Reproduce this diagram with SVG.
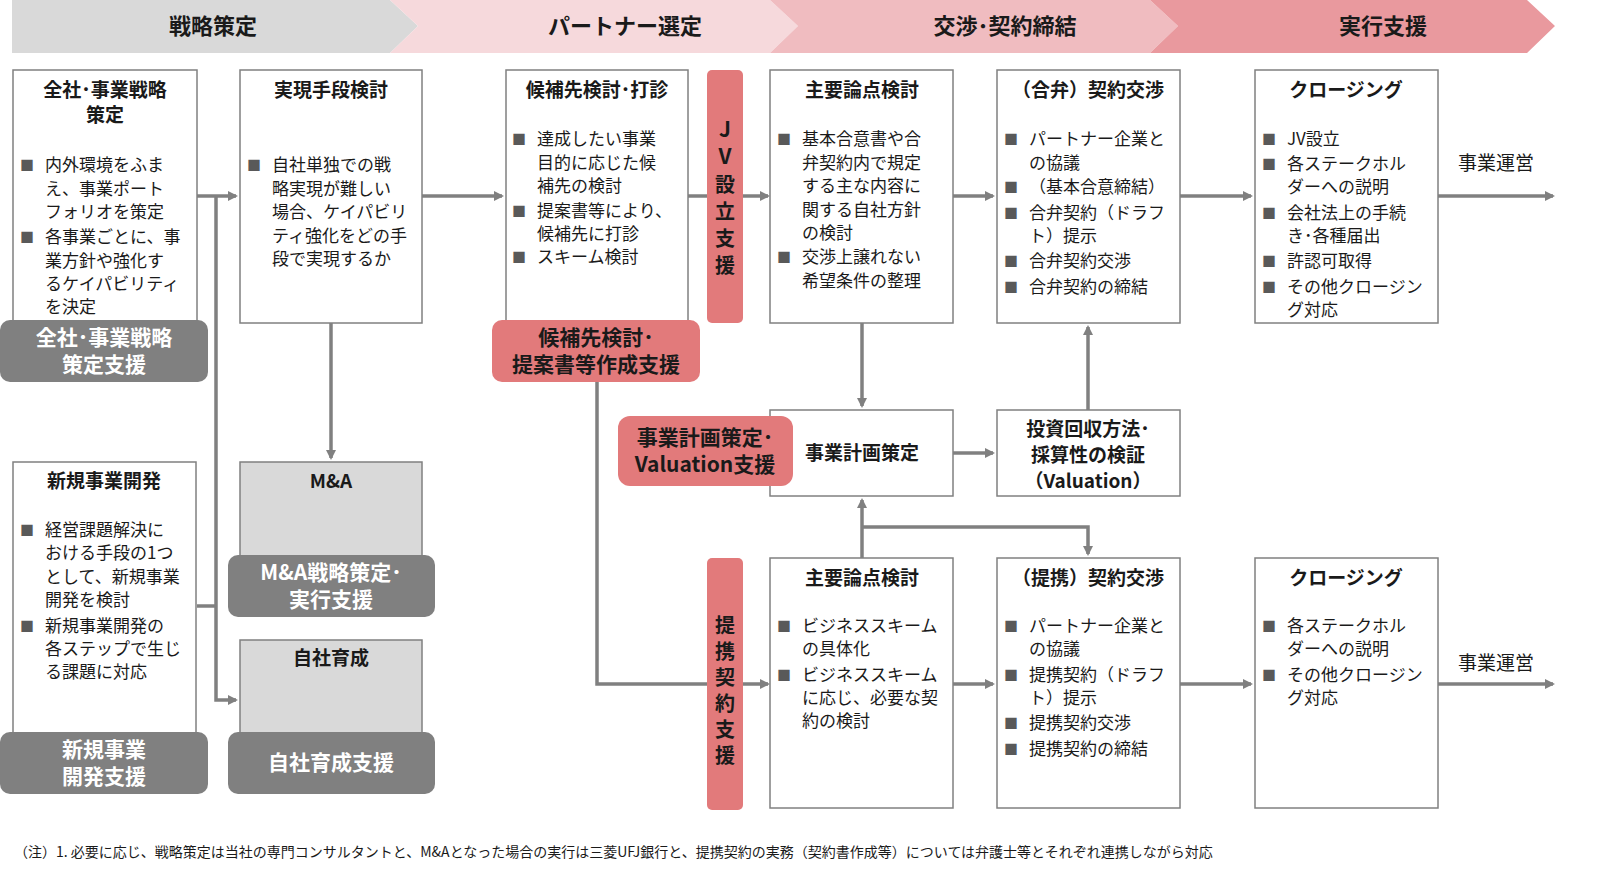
<svg xmlns="http://www.w3.org/2000/svg" width="1600" height="891" viewBox="0 0 1600 891">
<defs>
<marker id="ah" markerWidth="10" markerHeight="10" refX="8" refY="5" orient="auto" markerUnits="userSpaceOnUse"><path d="M0,0 L10,5 L0,10 Z" fill="#808080"/></marker>
<style>
text{font-family:"Noto Sans CJK JP","Liberation Sans",sans-serif;fill:#1a1a1a}
.box{fill:#fff;stroke:#808080;stroke-width:1.5}
.gbox{fill:#d9d9d9;stroke:#808080;stroke-width:1.5}
.t{font-size:19px;font-weight:bold;text-anchor:middle}
.b{font-size:17px}
.sq{fill:#595959;font-size:14px}
.gs{fill:#808080}
.ps{fill:#e27a7b}
.w{fill:#fff;font-size:21px;font-weight:bold;text-anchor:middle}
.p{font-size:21px;font-weight:bold;text-anchor:middle}
.v{font-size:20px;font-weight:bold;text-anchor:middle}
.h{font-size:22px;font-weight:bold;text-anchor:middle}
.c{fill:none;stroke:#808080;stroke-width:3.5}
</style>
</defs>
<rect width="1600" height="891" fill="#fff"/>
<g id="header">
<polygon points="12,0 390,0 418,26 390,53 12,53" fill="#d9d9d9"/>
<polygon points="390,0 770,0 798,26 770,53 390,53 418,26" fill="#f6d9dc"/>
<polygon points="770,0 1150,0 1178,26 1150,53 770,53 798,26" fill="#f0bcc0"/>
<polygon points="1150,0 1527,0 1555,26 1527,53 1150,53 1178,26" fill="#e9999e"/>
<text class="h" x="213" y="34">戦略策定</text>
<text class="h" x="625" y="34">パートナー選定</text>
<text class="h" x="1005" y="34">交渉･契約締結</text>
<text class="h" x="1383" y="34">実行支援</text>
</g>
<g id="connectors">
<line class="c" x1="197" y1="196" x2="236" y2="196" marker-end="url(#ah)"/>
<line class="c" x1="422" y1="196" x2="502" y2="196" marker-end="url(#ah)"/>
<line class="c" x1="688" y1="196" x2="768" y2="196" marker-end="url(#ah)"/>
<line class="c" x1="953" y1="196" x2="993" y2="196" marker-end="url(#ah)"/>
<line class="c" x1="1180" y1="196" x2="1251" y2="196" marker-end="url(#ah)"/>
<line class="c" x1="1438" y1="196" x2="1553" y2="196" marker-end="url(#ah)"/>
<polyline class="c" points="216,196 216,700 236,700" marker-end="url(#ah)"/>
<line class="c" x1="197" y1="606" x2="216" y2="606"/>
<line class="c" x1="331" y1="323" x2="331" y2="458" marker-end="url(#ah)"/>
<polyline class="c" points="597,382 597,684 768,684" marker-end="url(#ah)"/>
<line class="c" x1="862" y1="323" x2="862" y2="406" marker-end="url(#ah)"/>
<line class="c" x1="1088" y1="410" x2="1088" y2="327" marker-end="url(#ah)"/>
<line class="c" x1="953" y1="453" x2="993" y2="453" marker-end="url(#ah)"/>
<line class="c" x1="862" y1="558" x2="862" y2="500" marker-end="url(#ah)"/>
<polyline class="c" points="862,527 1088,527 1088,554" marker-end="url(#ah)"/>
<line class="c" x1="953" y1="684" x2="993" y2="684" marker-end="url(#ah)"/>
<line class="c" x1="1180" y1="684" x2="1251" y2="684" marker-end="url(#ah)"/>
<line class="c" x1="1438" y1="684" x2="1553" y2="684" marker-end="url(#ah)"/>
</g>
<g id="n1">
<rect class="box" x="13" y="70" width="184" height="252"/>
<text class="t" x="105" y="97">全社･事業戦略</text><text class="t" x="105" y="122">策定</text>
<text class="sq" x="20" y="170">■</text><text class="sq" x="20" y="242">■</text>
<text class="b" x="45" y="171">内外環境をふま</text><text class="b" x="45" y="195">え、事業ポート</text><text class="b" x="45" y="218">フォリオを策定</text>
<text class="b" x="45" y="243">各事業ごとに、事</text><text class="b" x="45" y="267">業方針や強化す</text><text class="b" x="45" y="290">るケイパビリティ</text><text class="b" x="45" y="313">を決定</text>
</g>
<g id="s1"><rect class="gs" x="0" y="320" width="208" height="62" rx="10"/><text class="w" x="104" y="345">全社･事業戦略</text><text class="w" x="104" y="372">策定支援</text></g>
<g id="n2">
<rect class="box" x="240" y="70" width="182" height="253"/>
<text class="t" x="331" y="97">実現手段検討</text>
<text class="sq" x="247" y="170">■</text>
<text class="b" x="272" y="171">自社単独での戦</text><text class="b" x="272" y="195">略実現が難しい</text><text class="b" x="272" y="218">場合、ケイパビリ</text><text class="b" x="272" y="242">ティ強化をどの手</text><text class="b" x="272" y="265">段で実現するか</text>
</g>
<g id="n3">
<rect class="box" x="506" y="70" width="182" height="253"/>
<text class="t" x="597" y="97">候補先検討･打診</text>
<text class="sq" x="512" y="144">■</text><text class="sq" x="512" y="216">■</text><text class="sq" x="512" y="262">■</text>
<text class="b" x="537" y="145">達成したい事業</text><text class="b" x="537" y="169">目的に応じた候</text><text class="b" x="537" y="192">補先の検討</text>
<text class="b" x="537" y="217">提案書等により、</text><text class="b" x="537" y="240">候補先に打診</text><text class="b" x="537" y="263">スキーム検討</text>
</g>
<g id="s3"><rect class="ps" x="492" y="320" width="208" height="62" rx="10"/><text class="p" x="596" y="345">候補先検討･</text><text class="p" x="596" y="372">提案書等作成支援</text></g>
<g id="jv"><rect class="ps" x="707" y="70" width="36" height="253" rx="5"/>
<text class="p" x="725" y="137">J</text><text class="p" x="725" y="164">V</text><text class="v" x="725" y="192">設</text><text class="v" x="725" y="219">立</text><text class="v" x="725" y="246">支</text><text class="v" x="725" y="273">援</text></g>
<g id="n4">
<rect class="box" x="770" y="70" width="183" height="253"/>
<text class="t" x="862" y="97">主要論点検討</text>
<text class="sq" x="777" y="144">■</text><text class="sq" x="777" y="262">■</text>
<text class="b" x="802" y="145">基本合意書や合</text><text class="b" x="802" y="169">弁契約内で規定</text><text class="b" x="802" y="192">する主な内容に</text><text class="b" x="802" y="216">関する自社方針</text><text class="b" x="802" y="239">の検討</text>
<text class="b" x="802" y="263">交渉上譲れない</text><text class="b" x="802" y="287">希望条件の整理</text>
</g>
<g id="n5">
<rect class="box" x="997" y="70" width="183" height="253"/>
<text class="t" x="1088" y="97">（合弁）契約交渉</text>
<text class="sq" x="1004" y="144">■</text><text class="sq" x="1004" y="192">■</text><text class="sq" x="1004" y="218">■</text><text class="sq" x="1004" y="266">■</text><text class="sq" x="1004" y="292">■</text>
<text class="b" x="1029" y="145">パートナー企業と</text><text class="b" x="1029" y="169">の協議</text><text class="b" x="1029" y="193">（基本合意締結）</text>
<text class="b" x="1029" y="219">合弁契約（ドラフ</text><text class="b" x="1029" y="242">ト）提示</text><text class="b" x="1029" y="267">合弁契約交渉</text><text class="b" x="1029" y="293">合弁契約の締結</text>
</g>
<g id="n6">
<rect class="box" x="1255" y="70" width="183" height="253"/>
<text class="t" x="1346" y="97">クロージング</text>
<text class="sq" x="1262" y="144">■</text><text class="sq" x="1262" y="169">■</text><text class="sq" x="1262" y="218">■</text><text class="sq" x="1262" y="266">■</text><text class="sq" x="1262" y="292">■</text>
<text class="b" x="1287" y="145">JV設立</text><text class="b" x="1287" y="170">各ステークホル</text><text class="b" x="1287" y="193">ダーへの説明</text>
<text class="b" x="1287" y="219">会社法上の手続</text><text class="b" x="1287" y="242">き･各種届出</text><text class="b" x="1287" y="267">許認可取得</text><text class="b" x="1287" y="293">その他クロージン</text><text class="b" x="1287" y="316">グ対応</text>
</g>
<text class="b" x="1496" y="170" style="font-size:19px;text-anchor:middle">事業運営</text>
<g id="n7">
<rect class="box" x="13" y="462" width="183" height="273"/>
<text class="t" x="104" y="488">新規事業開発</text>
<text class="sq" x="20" y="535">■</text><text class="sq" x="20" y="631">■</text>
<text class="b" x="45" y="536">経営課題解決に</text><text class="b" x="45" y="559">おける手段の1つ</text><text class="b" x="45" y="583">として、新規事業</text><text class="b" x="45" y="606">開発を検討</text>
<text class="b" x="45" y="632">新規事業開発の</text><text class="b" x="45" y="655">各ステップで生じ</text><text class="b" x="45" y="678">る課題に対応</text>
</g>
<g id="s7"><rect class="gs" x="0" y="732" width="208" height="62" rx="10"/><text class="w" x="104" y="757">新規事業</text><text class="w" x="104" y="784">開発支援</text></g>
<g id="ma"><rect class="gbox" x="240" y="462" width="182" height="100"/><text class="t" x="331" y="488">M&amp;A</text></g>
<g id="sma"><rect class="gs" x="228" y="555" width="207" height="62" rx="10"/><text class="w" x="331" y="580">M&amp;A戦略策定･</text><text class="w" x="331" y="607">実行支援</text></g>
<g id="jisha"><rect class="gbox" x="240" y="640" width="182" height="95"/><text class="t" x="331" y="665">自社育成</text></g>
<g id="sjisha"><rect class="gs" x="228" y="732" width="207" height="62" rx="10"/><text class="w" x="331" y="770">自社育成支援</text></g>
<g id="plan"><rect class="box" x="770" y="410" width="183" height="86"/><text class="t" x="862" y="460">事業計画策定</text></g>
<g id="splan"><rect class="ps" x="618" y="416" width="175" height="70" rx="12"/><text class="p" x="705" y="445">事業計画策定･</text><text class="p" x="705" y="472">Valuation支援</text></g>
<g id="val"><rect class="box" x="997" y="410" width="183" height="86"/>
<text class="t" x="1088" y="436">投資回収方法･</text><text class="t" x="1088" y="462">採算性の検証</text><text class="t" x="1088" y="488">（Valuation）</text></g>
<g id="tk"><rect class="ps" x="707" y="558" width="36" height="252" rx="5"/>
<text class="v" x="725" y="633">提</text><text class="v" x="725" y="659">携</text><text class="v" x="725" y="685">契</text><text class="v" x="725" y="711">約</text><text class="v" x="725" y="737">支</text><text class="v" x="725" y="763">援</text></g>
<g id="n8">
<rect class="box" x="770" y="558" width="183" height="250"/>
<text class="t" x="862" y="585">主要論点検討</text>
<text class="sq" x="777" y="631">■</text><text class="sq" x="777" y="680">■</text>
<text class="b" x="802" y="632">ビジネススキーム</text><text class="b" x="802" y="655">の具体化</text>
<text class="b" x="802" y="681">ビジネススキーム</text><text class="b" x="802" y="704">に応じ、必要な契</text><text class="b" x="802" y="727">約の検討</text>
</g>
<g id="n9">
<rect class="box" x="997" y="558" width="183" height="250"/>
<text class="t" x="1088" y="585">（提携）契約交渉</text>
<text class="sq" x="1004" y="631">■</text><text class="sq" x="1004" y="680">■</text><text class="sq" x="1004" y="728">■</text><text class="sq" x="1004" y="754">■</text>
<text class="b" x="1029" y="632">パートナー企業と</text><text class="b" x="1029" y="655">の協議</text>
<text class="b" x="1029" y="681">提携契約（ドラフ</text><text class="b" x="1029" y="704">ト）提示</text><text class="b" x="1029" y="729">提携契約交渉</text><text class="b" x="1029" y="755">提携契約の締結</text>
</g>
<g id="n10">
<rect class="box" x="1255" y="558" width="183" height="250"/>
<text class="t" x="1346" y="585">クロージング</text>
<text class="sq" x="1262" y="631">■</text><text class="sq" x="1262" y="680">■</text>
<text class="b" x="1287" y="632">各ステークホル</text><text class="b" x="1287" y="655">ダーへの説明</text>
<text class="b" x="1287" y="681">その他クロージン</text><text class="b" x="1287" y="704">グ対応</text>
</g>
<text class="b" x="1496" y="670" style="font-size:19px;text-anchor:middle">事業運営</text>
<text x="14" y="857" style="font-size:14px">（注）1.  必要に応じ、戦略策定は当社の専門コンサルタントと、M&amp;Aとなった場合の実行は三菱UFJ銀行と、提携契約の実務（契約書作成等）については弁護士等とそれぞれ連携しながら対応</text>
</svg>
